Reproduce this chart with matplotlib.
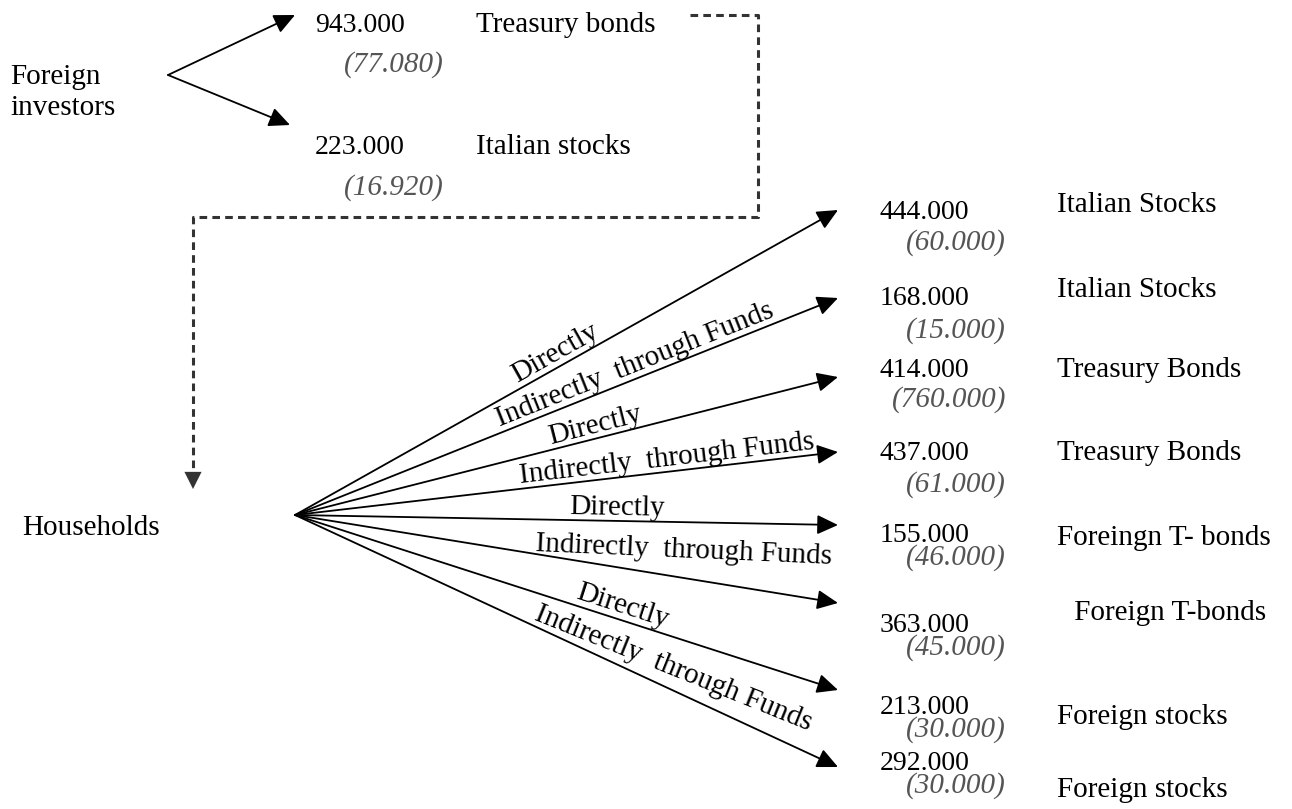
import math
import matplotlib
matplotlib.use("Agg")
import matplotlib.pyplot as plt

# ---------------- data ----------------
fi_values = ["943.000", "223.000"]
fi_sub = ["(77.080)", "(16.920)"]
fi_labels = ["Treasury bonds", "Italian stocks"]

hh_values = ["444.000", "168.000", "414.000", "437.000",
             "155.000", "363.000", "213.000", "292.000"]
hh_sub = ["(60.000)", "(15.000)", "(760.000)", "(61.000)",
          "(46.000)", "(45.000)", "(30.000)", "(30.000)"]
hh_labels = ["Italian Stocks", "Italian Stocks", "Treasury Bonds", "Treasury Bonds",
             "Foreingn T- bonds", " Foreign T-bonds", "Foreign stocks", "Foreign stocks"]
channels = ["Directly", "Indirectly  through Funds"] * 4

# ---------------- layout (pixels) ----------------
W, H = 1292, 809
FONT = "Liberation Serif"
FS = 21
GRAY = "#555555"

fig = plt.figure(figsize=(W / 100, H / 100), dpi=100)
ax = fig.add_axes([0, 0, 1, 1])
ax.set_xlim(0, W)
ax.set_ylim(H, 0)
ax.axis("off")


def arrow(p0, p1, lw=1.3, color="black", hl=0.58, hw=0.27, ms=22):
    ax.annotate("", xy=p1, xytext=p0,
                arrowprops=dict(arrowstyle=f"-|>,head_length={hl},head_width={hw}",
                                color=color, lw=lw, shrinkA=0, shrinkB=0,
                                mutation_scale=ms))


def txt(x, y, s, italic=False, color="black", size=FS, ha="left", va="center", **kw):
    ax.text(x, y, s, fontsize=size, family=FONT, color=color,
            style="italic" if italic else "normal", ha=ha, va=va, **kw)


# ---- foreign investors block ----
txt(10, 92, "Foreign\ninvestors", linespacing=1.25)
fork = (168, 75)
fi_tips = [(295, 15), (290, 125)]
fi_y = [25, 147]
fi_sub_y = [65, 188]
for tip, y, sy, v, s, lab in zip(fi_tips, fi_y, fi_sub_y, fi_values, fi_sub, fi_labels):
    arrow(fork, tip)
    txt(315, y, v, size=20)
    txt(444, sy, s, italic=True, color=GRAY, ha="right")
    txt(476, y, lab)

# ---- dashed connector ----
ax.plot([690, 758, 758, 193, 193], [15, 15, 217, 217, 468],
        ls=(0, (2.5, 1.7)), lw=2.2, color="#333333", solid_capstyle="butt",
        dash_capstyle="butt")
arrow((193, 471), (193, 489), lw=0.01, color="#333333", hl=0.56, hw=0.28, ms=22)

# ---- households block ----
txt(22, 528, "Households")
origin = (295, 515)
tip_x = 838
tip_y = [210, 298, 377, 452, 525, 603, 690, 767]
val_y = [212, 298, 370, 453, 535, 625, 707, 763]
sub_y = [243, 331, 400, 485, 558, 648, 730, 786]
lab_x = [1057, 1057, 1057, 1057, 1057, 1067, 1057, 1057]
lab_y = [205, 290, 370, 453, 538, 613, 717, 790]
label_x = [562, 640, 598, 668, 617, 679, 618, 665]
label_off = [13, 13, 13, 13, 13, 27, 14, 20]
rot_override = {5: -2.5, 7: -22.0}

for i in range(len(hh_values)):
    tip = (tip_x, tip_y[i])
    arrow(origin, tip)
    dx = tip[0] - origin[0]
    dy = tip[1] - origin[1]
    L = math.hypot(dx, dy)
    ang = rot_override.get(i, math.degrees(math.atan2(-dy, dx)))
    xc = label_x[i]
    yc = origin[1] + dy * (xc - origin[0]) / dx
    nx, ny = dy / L, -dx / L
    off = label_off[i]
    ax.text(xc + off * nx, yc + off * ny, channels[i], fontsize=FS, family=FONT,
            rotation=ang, rotation_mode="anchor", ha="center", va="center")
    txt(880, val_y[i], hh_values[i], size=20)
    txt(1006, sub_y[i], hh_sub[i], italic=True, color=GRAY, ha="right")
    txt(lab_x[i], lab_y[i], hh_labels[i])

fig.savefig("out.png", dpi=100)
